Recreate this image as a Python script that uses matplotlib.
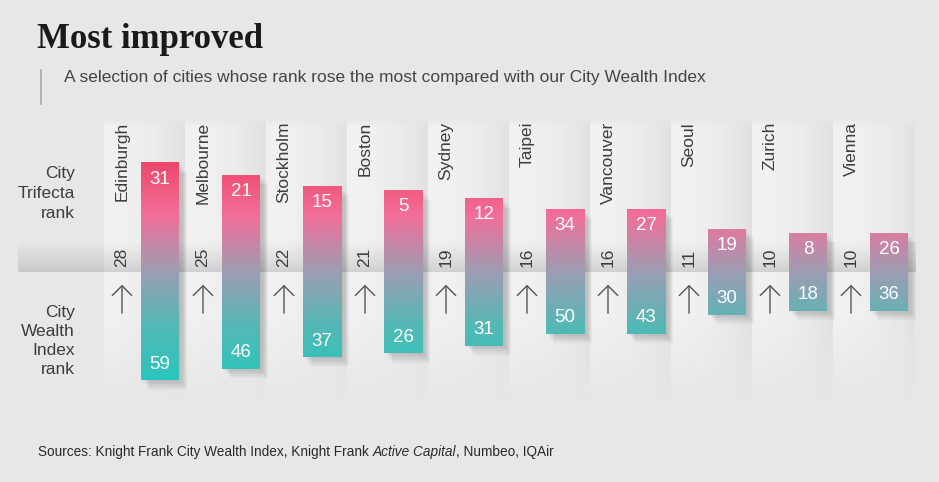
import numpy as np
import matplotlib.pyplot as plt
from matplotlib.colors import LinearSegmentedColormap, Normalize
from matplotlib.patches import Rectangle

plt.rcParams['font.family'] = ['Liberation Sans', 'DejaVu Sans']

# data
cities = ['Edinburgh', 'Melbourne', 'Stockholm', 'Boston', 'Sydney',
          'Taipei', 'Vancouver', 'Seoul', 'Zurich', 'Vienna']
trifecta_rank = [31, 21, 15, 5, 12, 34, 27, 19, 8, 26]
wealth_rank = [59, 46, 37, 26, 31, 50, 43, 30, 18, 36]

BG = '#e7e7e7'
TXT = '#3d3d3d'

# pixel scale of the chart (px per city, px per rank place)
PXX = 81.0
PXY = 7.75
W, H = 939, 482
X0, Y0 = 160, 272   # pixel position of first bar centre / axis line

fig = plt.figure(figsize=(W / 100, H / 100), dpi=100)
fig.patch.set_facecolor(BG)
ax = fig.add_axes([0, 0, 1, 1])
ax.set_facecolor(BG)
ax.set_xlim(-X0 / PXX, (W - X0) / PXX)
ax.set_ylim(-(H - Y0) / PXY, Y0 / PXY)
ax.axis('off')

def px(dx):
    return dx / PXX

def py(dy):
    return dy / PXY

cmap = LinearSegmentedColormap.from_list('grad', [
    (0.00, '#27c6bd'), (0.25, '#52b9b6'), (0.50, '#9d9db3'),
    (0.75, '#f26f9a'), (1.00, '#ee4566')])
norm = Normalize(-14.5, 14.5)

n = len(cities)
ytop_panel = py(Y0 - 117)
ybot_panel = -py(402 - Y0)

# column panels: card lit from the left, darker towards its right edge
cols = np.linspace(0, 1, 81)
rows = np.linspace(0, 1, 120)
env = np.clip(rows / 0.03, 0, 1) * np.clip((1 - rows) / 0.3, 0, 1)
shade = 0.955 - 0.075 * cols ** 2.2
panel = np.ones((len(rows), len(cols), 4))
panel[:, :, 0] = shade[None, :]
panel[:, :, 1] = shade[None, :]
panel[:, :, 2] = shade[None, :]
panel[:, :, 3] = 0.85 * env[:, None]
for i in range(n):
    left = i - px(56)
    ax.imshow(panel, extent=[left, left + px(81), ybot_panel, ytop_panel],
              aspect='auto', zorder=1, interpolation='bilinear')

# band above the axis line
band = np.zeros((50, 1, 4))
band[:, 0, 3] = np.linspace(0.0, 0.21, 50) ** 1.3
ax.imshow(band, extent=[-px(X0 - 18), px(915 - X0), 0, py(34)], origin='upper',
          aspect='auto', zorder=2, interpolation='bilinear')

bw = px(38)
for i, (c, t, w) in enumerate(zip(cities, trifecta_rank, wealth_rank)):
    d = w - t
    top, bot = d / 2, -d / 2
    # drop shadow
    for k in range(5):
        g = px(2 + k * 1.6)
        ax.add_patch(Rectangle((i - bw / 2 + g, bot - py(2 + k * 1.8)), bw, d,
                               color='black', alpha=0.035, lw=0, zorder=3))
    col = np.linspace(top, bot, 200)[:, None]
    ax.imshow(col, cmap=cmap, norm=norm, extent=[i - bw / 2, i + bw / 2, bot, top],
              aspect='auto', zorder=4, interpolation='bilinear')
    ax.text(i, top - py(16), str(t), color='white', fontsize=13.5,
            ha='center', va='center', zorder=5)
    ax.text(i, bot + py(16), str(w), color='white', fontsize=13.5,
            ha='center', va='center', zorder=5)
    # city name and change
    xl = i - px(38)
    ax.text(xl, py(Y0 - 122), c, rotation=90, fontsize=12.5, color=TXT,
            ha='center', va='top', zorder=5)
    ax.text(xl, py(5), str(d), rotation=90, fontsize=12.5, color=TXT,
            ha='center', va='bottom', zorder=5)
    ax.annotate('', xy=(xl, -py(10)), xytext=(xl, -py(44)),
                arrowprops=dict(arrowstyle='->,head_length=0.5,head_width=0.5',
                                color='#555555', lw=1.0, mutation_scale=14),
                zorder=5)

# row labels
ax.text(-px(X0 - 75), py(Y0 - 166), 'City\nTrifecta\nrank', ha='right', va='top',
        fontsize=12.5, color=TXT, linespacing=1.42)
ax.text(-px(X0 - 75), -py(305 - Y0), 'City\nWealth\nIndex\nrank', ha='right',
        va='top', fontsize=12.5, color=TXT, linespacing=1.34)

# title, subtitle, sources
fig.text(37 / W, 1 - 48 / H, 'Most improved', fontsize=25, fontweight='bold',
         family='Liberation Serif', color='#1a1a1a', va='baseline')
fig.text(64 / W, 1 - 82 / H,
         'A selection of cities whose rank rose the most compared with our City Wealth Index',
         fontsize=12.5, color='#454545', va='baseline')
fig.add_artist(plt.Line2D([41 / W, 41 / W], [1 - 70 / H, 1 - 104 / H],
                          color='#a8a8a8', lw=1.2))
s1 = fig.text(38 / W, 1 - 456 / H,
              'Sources: Knight Frank City Wealth Index, Knight Frank ',
              fontsize=9.8, color='#2a2a2a', va='baseline')
s2 = ax.annotate('Active Capital', xy=(1, 0), xycoords=s1, va='bottom',
                 fontsize=9.8, color='#2a2a2a', style='italic')
ax.annotate(', Numbeo, IQAir', xy=(1, 0), xycoords=s2, va='bottom',
            fontsize=9.8, color='#2a2a2a')

plt.savefig('out.png', dpi=100, facecolor=BG)
